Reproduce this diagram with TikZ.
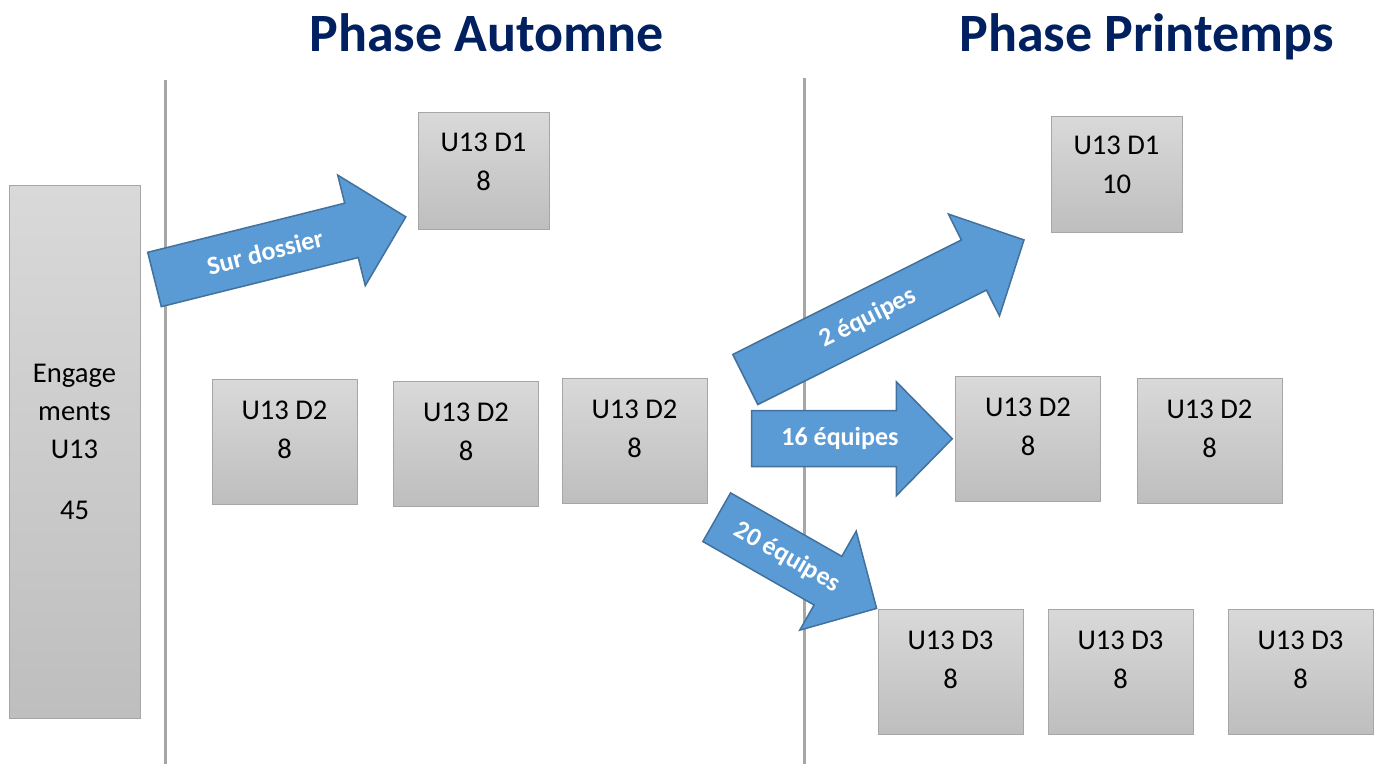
\documentclass[tikz,border=0pt]{standalone}
\usepackage{fontspec}
\setmainfont{Carlito}

\definecolor{titleblue}{HTML}{002060}
\definecolor{arrowblue}{HTML}{5B9BD5}
\definecolor{arrowedge}{HTML}{41719C}
\definecolor{celltop}{HTML}{D9D9D9}
\definecolor{cellbottom}{HTML}{BEBEBE}
\definecolor{celledge}{HTML}{A6A6A6}
\definecolor{phasegray}{HTML}{A6A6A6}

% fleche pleine : nom, queue, angle, longueur, texte
\newcommand{\blockarrow}[5]{%
	\begin{scope}[shift={#2}, rotate=#3]
		\draw[flow] (0,-28) -- ({#4-56},-28) -- ({#4-56},-57) -- (#4,0)
			-- ({#4-56},57) -- ({#4-56},28) -- (0,28) -- cycle;
		\node[flowtext, rotate=#3] (#1) at ({0.44*#4},0) {#5};
	\end{scope}}

\begin{document}
\begin{tikzpicture}[x=0.5pt, y=-0.5pt,
		% 1px de la figure = 0.5pt
		cell/.style={draw=celledge, line width=0.5pt, top color=celltop,
			bottom color=cellbottom, minimum width=72.5pt, minimum height=62.5pt, inner sep=0pt},
		celltext/.style={anchor=north, yshift=-11pt, align=center, inner sep=0pt,
			font=\fontsize{14.3}{19.5}\selectfont},
		phasetitle/.style={anchor=base, text=titleblue, font=\fontsize{27}{30}\selectfont\bfseries},
		phaseline/.style={draw=phasegray, line width=1.5pt},
		flow/.style={fill=arrowblue, draw=arrowedge, line width=0.75pt, line join=miter},
		flowtext/.style={text=white, inner sep=0pt, font=\fontsize{13}{15}\selectfont\bfseries}
		]
		\useasboundingbox (0,0) rectangle (1374,764);

		\node[phasetitle] (automne) at (486.5,52) {Phase Automne};
		\node[phasetitle] (printemps) at (1146.5,52) {Phase Printemps};

		\draw[phaseline] (165,80) -- (165,764);
		\draw[phaseline] (804,78) -- (804,764);

		\node[cell, minimum width=65.5pt, minimum height=266pt] (eng) at (74.5,452) {};
		\node[align=center, inner sep=0pt, font=\fontsize{14.3}{19}\selectfont] (engtext) at (74.5,442)
			{Engage\\ments\\U13\\[11.5pt]45};

		\node[cell, minimum width=65.5pt, minimum height=58.5pt] (d1a) at (483.5,171.5) {};
		\node[celltext, yshift=1pt] at (d1a.north) {U13 D1\\8};
		\node[cell, minimum width=65.5pt, minimum height=58pt] (d1b) at (1116.5,174.5) {};
		\node[celltext, yshift=1pt] at (d1b.north) {U13 D1\\10};

		\node[cell] (d2a) at (284.5,441.5) {};
		\node[celltext] at (d2a.north) {U13 D2\\8};
		\node[cell] (d2b) at (466,443.5) {};
		\node[celltext] at (d2b.north) {U13 D2\\8};
		\node[cell] (d2c) at (634.5,440.5) {};
		\node[celltext] at (d2c.north) {U13 D2\\8};
		\node[cell] (d2d) at (1028,438.5) {};
		\node[celltext] at (d2d.north) {U13 D2\\8};
		\node[cell] (d2e) at (1209.5,440.5) {};
		\node[celltext] at (d2e.north) {U13 D2\\8};

		\node[cell] (d3a) at (950.5,671.5) {};
		\node[celltext] at (d3a.north) {U13 D3\\8};
		\node[cell] (d3b) at (1120.5,671.5) {};
		\node[celltext] at (d3b.north) {U13 D3\\8};
		\node[cell] (d3c) at (1300.5,671.5) {};
		\node[celltext] at (d3c.north) {U13 D3\\8};

		\blockarrow{dossier}{(154.5,279.5)}{14}{259}{Sur dossier}
		\blockarrow{deux}{(745.3,379.5)}{26.6}{311.7}{2 équipes}
		\blockarrow{seize}{(751.7,438.7)}{0}{200.6}{16 équipes}
		\blockarrow{vingt}{(716.7,517.2)}{-29.7}{184.1}{20 équipes}
	\end{tikzpicture}
\end{document}
